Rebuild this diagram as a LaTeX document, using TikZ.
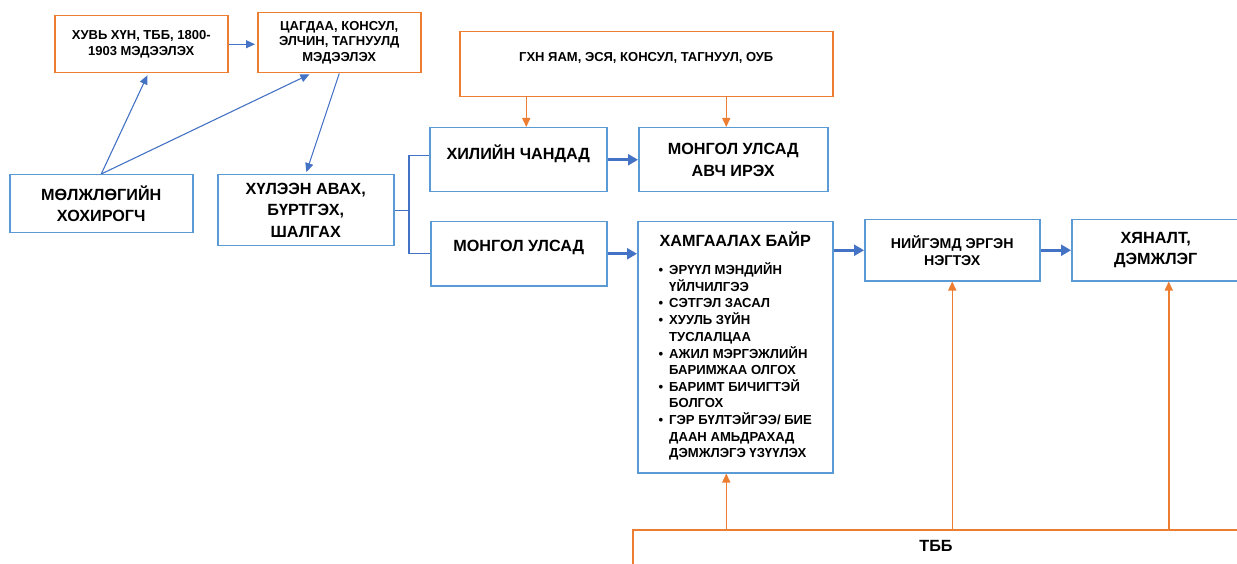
\documentclass[tikz,border=0pt]{standalone}
\usepackage{fontspec}
\setmainfont{Liberation Sans}
\usepackage{xcolor}
\usepackage{tikz}
\usetikzlibrary{arrows.meta}
\definecolor{boxorange}{HTML}{ED7D31}
\definecolor{boxblue}{HTML}{5B9BD5}
\definecolor{linkblue}{HTML}{4472C4}
\newcommand\smalltxt{\fontsize{13}{15.5}\selectfont}
\newcommand\midtxt{\fontsize{14.2}{17}\selectfont}
\newcommand\bigtxt{\fontsize{16.2}{21.5}\selectfont}
\newcommand\listtxt{\fontsize{13.1}{16.5}\selectfont}

\begin{document}
\begin{tikzpicture}[x=1pt,y=-1pt,
	box/.style={draw,line width=1.5pt,inner sep=2pt,align=center,anchor=north west,font=\bfseries\smalltxt},
	obox/.style={box,draw=boxorange},
	bbox/.style={box,draw=boxblue},
	lift/.style={text depth=15pt},
	bline/.style={draw=linkblue,line width=1.1pt},
	barrow/.style={bline,-{Triangle[width=8pt,length=9pt]},shorten >=2pt},
	fatarrow/.style={draw=linkblue,line width=3.2pt,-{Triangle[width=11pt,length=10pt]}},
	oarrow/.style={draw=boxorange,line width=1.5pt,-{Triangle[width=8pt,length=9pt]}}]
	\path[use as bounding box,clip] (0,0) rectangle (1237,564);

	% sources
	\node[obox,minimum width=173,minimum height=57] (report) at (54,15) {ХУВЬ ХҮН, ТББ, 1800-\\1903 МЭДЭЭЛЭХ};
	\node[obox,minimum width=163,minimum height=60] (police) at (257,12) {ЦАГДАА, КОНСУЛ,\\ЭЛЧИН, ТАГНУУЛД\\МЭДЭЭЛЭХ};
	\node[obox,lift,minimum width=373,minimum height=65] (ministry) at (459,31) {ГХН ЯАМ, ЭСЯ, КОНСУЛ, ТАГНУУЛ, ОУБ};
	\node[bbox,minimum width=183,minimum height=58,font=\bfseries\bigtxt] (victim) at (9,174) {МӨЛЖЛӨГИЙН\\ХОХИРОГЧ};
	\node[bbox,minimum width=176,minimum height=71,font=\bfseries\bigtxt] (intake) at (217,174) {ХҮЛЭЭН АВАХ,\\БҮРТГЭХ,\\ШАЛГАХ};

	% two branches
	\node[bbox,lift,minimum width=177,minimum height=64,font=\bfseries\bigtxt] (abroad) at (429,127) {ХИЛИЙН ЧАНДАД};
	\node[bbox,minimum width=189,minimum height=64,font=\bfseries\bigtxt] (return) at (638,127) {МОНГОЛ УЛСАД\\АВЧ ИРЭХ};
	\node[bbox,lift,minimum width=176,minimum height=64,font=\bfseries\bigtxt] (home) at (430,221) {МОНГОЛ УЛСАД};
	\node[bbox,minimum width=195,minimum height=251] (shelter) at (637,221) {%
		{\bigtxt ХАМГААЛАХ БАЙР}\\[15pt]
		{\listtxt\begin{tabular}{@{}l@{\hspace{6pt}}l@{}}
			\textbullet & ЭРҮҮЛ МЭНДИЙН\\
			 & ҮЙЛЧИЛГЭЭ\\
			\textbullet & СЭТГЭЛ ЗАСАЛ\\
			\textbullet & ХУУЛЬ ЗҮЙН\\
			 & ТУСЛАЛЦАА\\
			\textbullet & АЖИЛ МЭРГЭЖЛИЙН\\
			 & БАРИМЖАА ОЛГОХ\\
			\textbullet & БАРИМТ БИЧИГТЭЙ\\
			 & БОЛГОХ\\
			\textbullet & ГЭР БҮЛТЭЙГЭЭ/ БИЕ\\
			 & ДААН АМЬДРАХАД\\
			 & ДЭМЖЛЭГЭ ҮЗҮҮЛЭХ
		\end{tabular}}};
	\node[bbox,minimum width=175,minimum height=61,font=\bfseries\midtxt] (reinteg) at (864,219) {НИЙГЭМД ЭРГЭН\\НЭГТЭХ};
	\node[bbox,minimum width=168,minimum height=61,font=\bfseries\bigtxt] (monitor) at (1071,219) {ХЯНАЛТ,\\ДЭМЖЛЭГ};

	% ngo along the bottom
	\node[obox,minimum width=620,minimum height=50] (ngo) at (632,529) {};
	\node[font=\bfseries\bigtxt] (ngotext) at (936,546) {ТББ};

	% thin links
	\draw[barrow] (report.east) -- (report.east -| police.west);
	\draw[barrow] (victim.north) -- ([xshift=7pt]report.south);
	\draw[barrow] (victim.north) -- ([xshift=-28pt]police.south);
	\draw[barrow] (police.south) -- (intake.north);
	\coordinate (fork) at (409,0);
	\draw[bline] (intake.east) -- (intake.east -| fork);
	\draw[bline] ([yshift=4pt]abroad.west) -| (fork |- home.west) -- (home.west);

	% thick links
	\draw[fatarrow] (abroad.east) -- (return.west);
	\draw[fatarrow] (home.east) -- (home.east -| shelter.west);
	\draw[fatarrow] (shelter.east |- reinteg.west) -- (reinteg.west);
	\draw[fatarrow] (reinteg.east) -- (monitor.west);

	% orange links
	\coordinate (toabroad) at ([xshift=8pt]abroad.north);
	\coordinate (toreturn) at ([xshift=-7pt]return.north);
	\coordinate (toshelter) at ([xshift=-9pt]shelter.south);
	\coordinate (tomonitor) at ([xshift=13pt]monitor.south);
	\draw[oarrow] (ministry.south -| toabroad) -- (toabroad);
	\draw[oarrow] (ministry.south -| toreturn) -- (toreturn);
	\draw[oarrow] (ngo.north -| toshelter) -- (toshelter);
	\draw[oarrow] (ngo.north -| reinteg.south) -- (reinteg.south);
	\draw[oarrow] (ngo.north -| tomonitor) -- (tomonitor);
\end{tikzpicture}
\end{document}
